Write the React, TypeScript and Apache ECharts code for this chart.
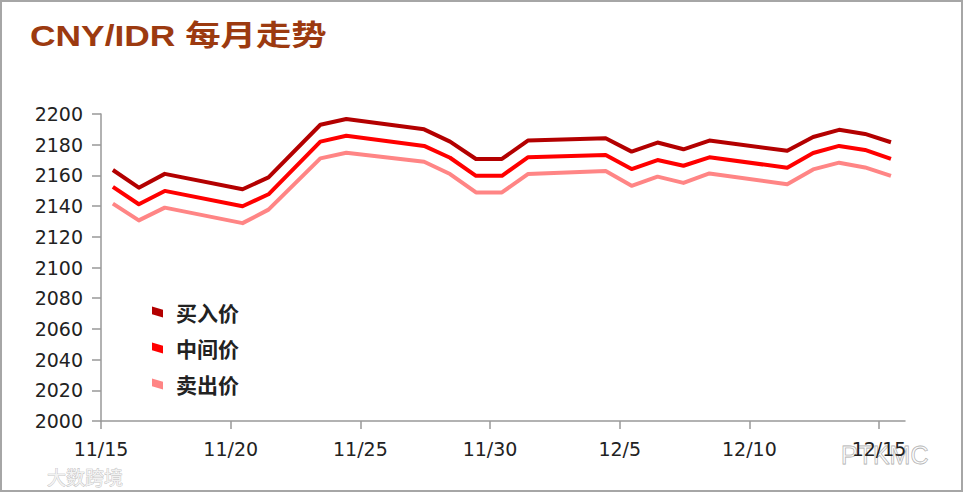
import React, { useEffect, useRef } from "react";
import * as echarts from "echarts";

const dates = ["11/15","11/16","11/17","11/20","11/21","11/23","11/24","11/27","11/28","11/29","11/30","12/1","12/4","12/5","12/6","12/7","12/8","12/11","12/12","12/13","12/14","12/15"];
const buyValues = [2163.5,2152,2161,2151,2158.7,2193,2196.7,2190,2182,2170.7,2170.7,2182.7,2184.2,2175.5,2181.4,2177,2182.7,2176,2185,2189.7,2187,2181.6];
const midValues = [2152.5,2141.2,2149.9,2139.9,2147.7,2182,2185.8,2179.2,2171.5,2159.7,2159.7,2171.8,2173.3,2164.1,2170,2166.3,2171.8,2165,2174.6,2179.2,2176.6,2170.7];
const sellValues = [2141.6,2130.7,2139,2128.9,2137.7,2171.1,2174.8,2168.9,2160.9,2148.9,2148.9,2160.9,2162.8,2153.2,2159.2,2155.1,2161.3,2154.3,2163.9,2168.3,2165.2,2159.7];
const seriesNames = ["买入价", "中间价", "卖出价"];
const xTickLabels = ["11/15","11/20","11/25","11/30","12/5","12/10","12/15"];
const xTickValues = [0, 5, 10, 15, 20, 25, 30];
const titleText = "CNY/IDR 每月走势";

const colors = ["#b30000", "#ff0000", "#ff8585"];

function dayOffset(d: string): number {
  const [m, day] = d.split("/").map(Number);
  return m === 11 ? day - 15 : 15 + day;
}

export default function App() {
  const ref = useRef<HTMLDivElement>(null);
  useEffect(() => {
    if (!ref.current) return;
    const chart = echarts.init(ref.current, null, { renderer: "svg" });
    const toData = (vals: number[]) => dates.map((d, i) => [dayOffset(d) + 11 / 24, vals[i]]);
    const allVals = [buyValues, midValues, sellValues];
    const axisFont = "'DejaVu Sans', sans-serif";
    chart.setOption({
      animation: false,
      backgroundColor: "#ffffff",
      legend: {
        orient: "vertical",
        left: 147,
        top: 296,
        itemWidth: 15,
        itemHeight: 11,
        itemGap: 14,
        icon: "path://M0,0 L10,3 L10,10 L0,7 Z",
        data: seriesNames,
        textStyle: {
          fontFamily: "'Noto Sans CJK SC', sans-serif",
          fontSize: 21,
          fontWeight: "bold",
          color: "#222",
          lineHeight: 22,
          padding: [0, 0, 0, 6],
        },
      },
      grid: { left: 101, right: 60, top: 114, bottom: 74, containLabel: false },
      xAxis: {
        type: "value",
        min: 0,
        max: 31,
        interval: 5,
        splitLine: { show: false },
        axisLine: { show: true, lineStyle: { color: "#999", width: 1.5 } },
        axisTick: { show: true, length: 8, customValues: xTickValues, lineStyle: { color: "#999", width: 1.5 } },
        axisLabel: {
          customValues: xTickValues,
          formatter: (v: number) => xTickLabels[Math.round(v / 5)] ?? "",
          fontFamily: axisFont,
          fontSize: 19,
          color: "#222",
          margin: 18,
        },
      },
      yAxis: {
        type: "value",
        min: 2000,
        max: 2200,
        interval: 20,
        splitLine: { show: false },
        axisLine: { show: true, lineStyle: { color: "#999", width: 1.5 } },
        axisTick: { show: true, length: 9, lineStyle: { color: "#999", width: 1.5 } },
        axisLabel: {
          formatter: (v: number) => String(v),
          fontFamily: axisFont,
          fontSize: 19,
          color: "#222",
          margin: 18,
        },
      },
      series: seriesNames.map((name, i) => ({
        name,
        type: "line",
        data: toData(allVals[i]),
        showSymbol: false,
        symbol: "none",
        lineStyle: { color: colors[i], width: 4, join: "round" },
        itemStyle: { color: colors[i] },
      })),
      graphic: [
        {
          type: "rect",
          shape: { x: 1, y: 1, width: 961, height: 490 },
          style: { fill: "none", stroke: "#a6a6a6", lineWidth: 2 },
          silent: true,
        },
        {
          type: "text",
          x: 30,
          y: 22,
          scaleX: 1.22,
          style: {
            text: titleText,
            fontSize: 29,
            fontWeight: "bold",
            fill: "#9c3a10",
            fontFamily: "'Liberation Sans', 'Noto Sans CJK SC', sans-serif",
          },
          silent: true,
        },
        {
          type: "text",
          x: 47,
          y: 467,
          style: { text: "大数跨境", fontSize: 19, fill: "#f2f2f2", stroke: "#b5b5b5", lineWidth: 0.7, fontFamily: "'Noto Sans CJK SC', sans-serif" },
          silent: true,
        },
        {
          type: "text",
          x: 841,
          y: 442,
          style: { text: "PTKMC", fontSize: 25, fill: "rgba(255,255,255,0.3)", stroke: "#aaaaaa", lineWidth: 0.8, fontFamily: "'Liberation Sans', sans-serif" },
          silent: true,
        },
      ],
    });
    return () => chart.dispose();
  }, []);
  return (
    <div
      ref={ref}
      style={{ position: "fixed", left: 0, top: 0, width: 965, height: 495 }}
    />
  );
}
